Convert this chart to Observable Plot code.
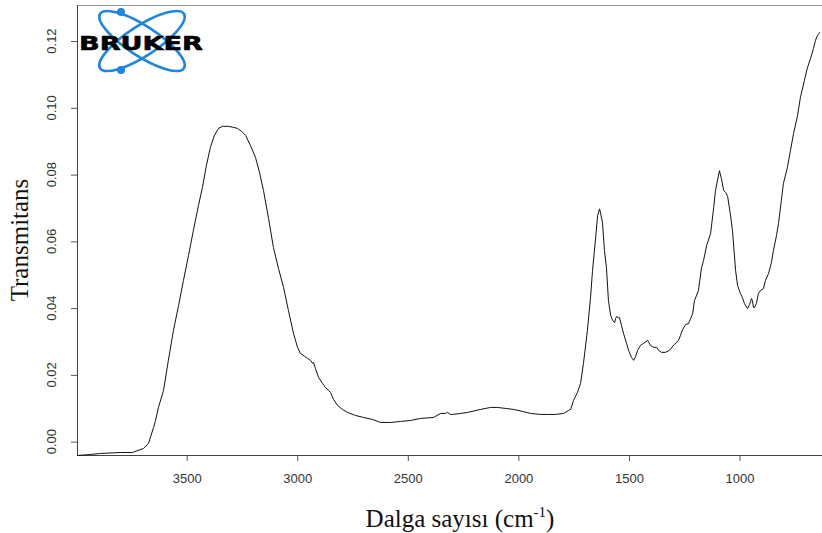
<!DOCTYPE html>
<html>
<head>
<meta charset="utf-8">
<script src="https://cdn.jsdelivr.net/npm/d3@7"></script>
<script src="https://cdn.jsdelivr.net/npm/@observablehq/plot@0.6"></script>
<style>
  html, body { margin: 0; padding: 0; background: #fff; }
  #chart { width: 822px; height: 533px; }
</style>
</head>
<body>
<div id="chart"></div>
<script>
// Wavenumbers (cm-1)
const wavenumber = [3996,3937,3892,3802,3747,3698,3675,3652,3643,3630,3607,3585,3562,3539,3517,3494,3472,3449,3431,3413,3395,3377,3358,3340,3313,3291,3273,3254,3236,3214,3191,3173,3155,3132,3110,3087,3064,3042,3019,3001,2988,2969,2956,2942,2933,2929,2920,2906,2888,2875,2861,2852,2838,2820,2798,2775,2739,2703,2662,2626,2580,2535,2490,2445,2386,2354,2332,2323,2309,2300,2264,2232,2173,2128,2097,2060,2024,1983,1947,1902,1870,1834,1798,1775,1766,1753,1735,1721,1708,1690,1676,1667,1662,1653,1644,1635,1631,1622,1613,1604,1595,1585,1576,1567,1563,1558,1549,1545,1536,1527,1513,1504,1491,1481,1472,1463,1450,1436,1418,1405,1391,1377,1368,1355,1337,1319,1301,1278,1269,1260,1246,1233,1214,1206,1188,1174,1165,1151,1133,1119,1111,1093,1084,1074,1065,1056,1043,1034,1020,1011,998,989,980,966,957,948,944,939,935,926,917,908,894,885,871,858,849,835,826,813,804,786,772,758,740,727,709,695,681,668,659,650,640,636,627];
// Transmittance values
const transmittance = [-0.0040,-0.0037,-0.0034,-0.0031,-0.0031,-0.0019,-0.0004,0.0044,0.0065,0.0104,0.0155,0.0245,0.0335,0.0409,0.0484,0.0559,0.0634,0.0709,0.0763,0.0829,0.0883,0.0919,0.0940,0.0946,0.0946,0.0943,0.0940,0.0931,0.0919,0.0889,0.0853,0.0808,0.0754,0.0670,0.0583,0.0520,0.0463,0.0394,0.0325,0.0284,0.0266,0.0257,0.0251,0.0245,0.0236,0.0239,0.0221,0.0194,0.0176,0.0164,0.0155,0.0149,0.0128,0.0110,0.0098,0.0089,0.0080,0.0074,0.0068,0.0059,0.0059,0.0062,0.0065,0.0071,0.0074,0.0086,0.0086,0.0089,0.0083,0.0083,0.0086,0.0089,0.0098,0.0104,0.0104,0.0101,0.0098,0.0092,0.0086,0.0083,0.0083,0.0083,0.0086,0.0095,0.0098,0.0125,0.0149,0.0176,0.0236,0.0335,0.0433,0.0514,0.0549,0.0612,0.0678,0.0699,0.0687,0.0658,0.0574,0.0523,0.0424,0.0380,0.0365,0.0358,0.0370,0.0376,0.0373,0.0373,0.0350,0.0326,0.0296,0.0275,0.0254,0.0245,0.0257,0.0275,0.0290,0.0296,0.0305,0.0290,0.0284,0.0284,0.0275,0.0269,0.0269,0.0275,0.0290,0.0305,0.0320,0.0337,0.0352,0.0355,0.0385,0.0424,0.0454,0.0523,0.0544,0.0589,0.0625,0.0703,0.0754,0.0813,0.0789,0.0754,0.0748,0.0736,0.0680,0.0634,0.0514,0.0469,0.0445,0.0433,0.0415,0.0400,0.0412,0.0430,0.0424,0.0403,0.0403,0.0415,0.0445,0.0454,0.0460,0.0484,0.0505,0.0538,0.0574,0.0619,0.0655,0.0724,0.0774,0.0822,0.0873,0.0924,0.0978,0.1032,0.1083,0.1122,0.1149,0.1179,0.1203,0.1218,0.1227];
const xTicks = [3500, 3000, 2500, 2000, 1500, 1000];
const yTicks = [0.00, 0.02, 0.04, 0.06, 0.08, 0.10, 0.12];
const xTitle = "Dalga sayısı (cm";
const xTitleSup = "-1";
const yTitle = "Transmitans";
const logoText = "BRUKER";

const spectrum = wavenumber.map((w, i) => ({w, t: transmittance[i]}));
const xDomain = [3996, 627];
const yDomain = [-0.004, 0.1308];

const chart = Plot.plot({
  width: 822,
  height: 533,
  marginLeft: 77,
  marginRight: 0,
  marginTop: 5,
  marginBottom: 78,
  style: {fontFamily: "'Liberation Sans', Arial, sans-serif", fontSize: "13px", color: "#444", background: "#fff"},
  x: {domain: xDomain},
  y: {domain: yDomain},
  marks: [
    Plot.axisX({ticks: xTicks, tickSize: 6, tickPadding: 12, label: null, stroke: "#555", fill: "#333", tickFormat: d => String(d)}),
    Plot.axisY({ticks: yTicks, tickSize: 6, label: null, stroke: "#555", tickFormat: () => ""}),
    Plot.ruleY([yDomain[0]], {stroke: "#444", strokeWidth: 1}),
    Plot.ruleY([yDomain[1]], {stroke: "#999", strokeWidth: 1.2}),
    Plot.ruleX([xDomain[0]], {stroke: "#444", strokeWidth: 1}),
    Plot.line(spectrum, {x: "w", y: "t", stroke: "#111", strokeWidth: 1})
  ]
});

const svg = d3.select(chart);
const yScale = chart.scale("y");
const fmt = d3.format(".2f");

// Rotated y tick labels, positioned by Plot's y scale
const yLab = svg.append("g")
  .attr("font-family", "'Liberation Sans', Arial, sans-serif")
  .attr("font-size", 13)
  .attr("fill", "#333")
  .attr("text-anchor", "middle");
yTicks.forEach(v => {
  const py = yScale.apply(v);
  yLab.append("text")
    .attr("transform", `translate(56,${py}) rotate(-90)`)
    .text(fmt(v));
});

// Axis titles
const xt = svg.append("text")
  .attr("x", 460).attr("y", 527)
  .attr("text-anchor", "middle")
  .attr("font-family", "'Liberation Serif', 'Times New Roman', serif")
  .attr("font-size", 25)
  .attr("fill", "#111");
xt.append("tspan").text(xTitle);
xt.append("tspan").attr("font-size", 15).attr("dy", -10).text(xTitleSup);
xt.append("tspan").attr("dy", 10).text(")");

svg.append("text")
  .attr("transform", "translate(28,240) rotate(-90)")
  .attr("text-anchor", "middle")
  .attr("font-family", "'Liberation Serif', 'Times New Roman', serif")
  .attr("font-size", 25)
  .attr("fill", "#111")
  .text(yTitle);

// Logo
const logo = svg.append("g");
const blue = "#1f86e0";
logo.append("ellipse").attr("cx", 142).attr("cy", 41).attr("rx", 50).attr("ry", 15)
  .attr("transform", "rotate(33,142,41)").attr("fill", "none").attr("stroke", blue).attr("stroke-width", 2.6);
logo.append("ellipse").attr("cx", 142).attr("cy", 41).attr("rx", 50).attr("ry", 15)
  .attr("transform", "rotate(-33,142,41)").attr("fill", "none").attr("stroke", blue).attr("stroke-width", 2.6);
logo.append("circle").attr("cx", 121).attr("cy", 12).attr("r", 4).attr("fill", blue);
logo.append("circle").attr("cx", 121).attr("cy", 70).attr("r", 4).attr("fill", blue);
logo.append("text").attr("x", 79).attr("y", 50)
  .attr("text-anchor", "start")
  .attr("font-family", "'DejaVu Sans', Arial, sans-serif").attr("font-weight", "bold")
  .attr("font-size", 20).attr("textLength", 124).attr("lengthAdjust", "spacingAndGlyphs")
  .attr("fill", "#000").attr("stroke", "#000").attr("stroke-width", 0.6)
  .text(logoText);

document.getElementById("chart").appendChild(chart);
</script>
</body>
</html>
